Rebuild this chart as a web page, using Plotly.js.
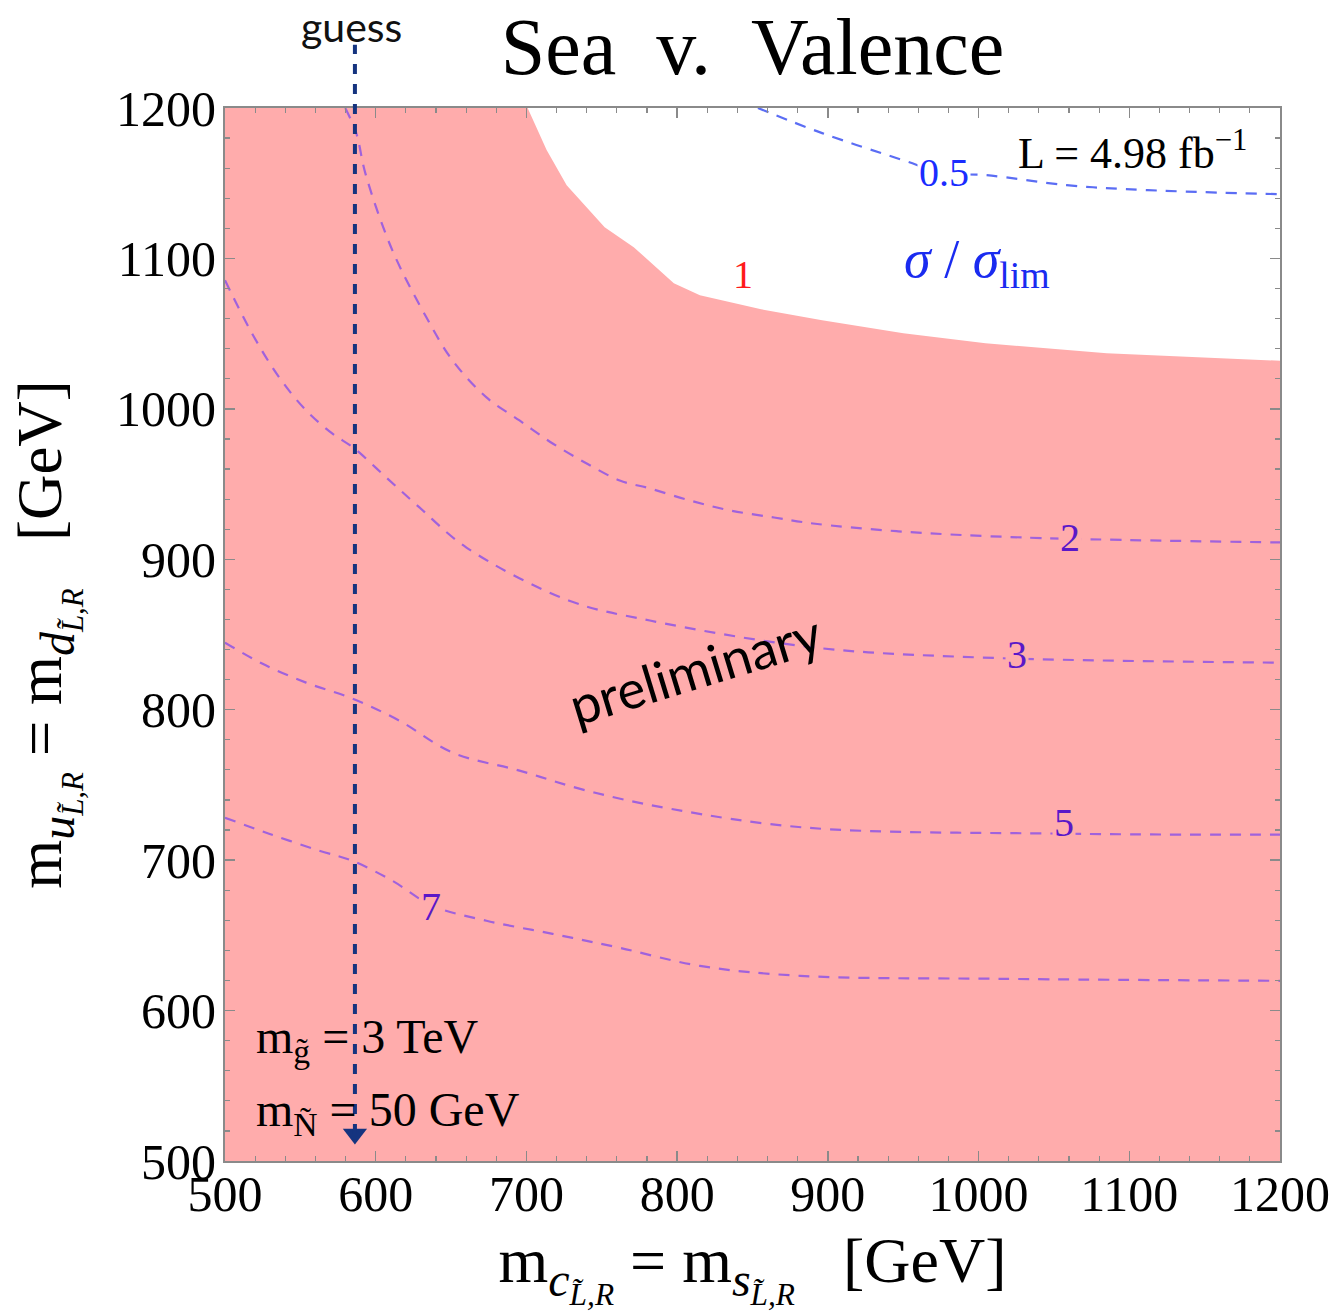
<!DOCTYPE html>
<html>
<head>
<meta charset="utf-8">
<script src="https://cdn.plot.ly/plotly-3.0.1.min.js"></script>
<style>
  html, body { margin: 0; padding: 0; background: #fff; }
  #chart { width: 1337px; height: 1312px; }
</style>
</head>
<body>
<div id="chart"></div>
<script>
// Axis ranges (GeV)
const xRange = [500, 1200];
const yRange = [500, 1200];

// sigma / sigma_lim = 1 boundary: excluded region lies below / left of it
const limX = [700.8, 713.4, 726.7, 751.9, 771.2, 797.8, 815.1, 855.7, 896.2, 950.1, 1004.6, 1085.0, 1200];
const limY = [1200, 1172.0, 1148.7, 1120.8, 1107.5, 1083.5, 1075.5, 1066.2, 1058.9, 1050.2, 1043.6, 1036.9, 1032.0];

// sigma / sigma_lim = 0.5
const c05X = [853.6, 896.2, 950.0, 977.3, 1004.6, 1058.4, 1112.2, 1200];
const c05Y = [1200, 1183.3, 1165.3, 1156.7, 1155.4, 1148.7, 1145.4, 1142.7];

// sigma / sigma_lim = 2
const c2X = [579.8, 587.1, 593.1, 611.0, 633.6, 650.9, 673.5, 695.4, 717.4, 740.0, 761.9, 781.9, 808.4, 835.0, 864.3, 890.2, 946.7, 1029.1, 1200];
const c2Y = [1200, 1183.3, 1156.7, 1105.5, 1060.9, 1032.3, 1007.6, 992.3, 977.0, 963.7, 952.4, 947.1, 939.1, 932.5, 927.8, 923.8, 918.6, 914.5, 911.2];

// sigma / sigma_lim = 3
const c3X = [500, 517.9, 535.9, 553.8, 571.1, 585.8, 607.0, 629.0, 660.2, 728.0, 781.9, 891.5, 1001.9, 1200];
const c3Y = [1085.5, 1050.2, 1021.0, 999.0, 983.7, 973.7, 954.4, 934.5, 907.8, 872.6, 859.3, 841.3, 834.7, 831.3];

// sigma / sigma_lim = 5
const c5X = [500, 524.6, 553.8, 584.4, 615.7, 650.9, 695.4, 740.0, 795.2, 885.6, 1055.7, 1200];
const c5Y = [844.6, 830.7, 818.0, 807.4, 792.7, 771.5, 759.5, 746.2, 734.2, 721.6, 717.6, 716.9];

// sigma / sigma_lim = 7
const c7X = [500, 529.2, 562.5, 584.4, 611.0, 637.6, 673.5, 717.4, 761.9, 815.1, 881.6, 1014.5, 1200];
const c7Y = [728.2, 717.6, 706.3, 699.6, 686.3, 669.7, 659.7, 651.0, 641.7, 629.7, 623.1, 621.1, 619.8];

// Contour level labels
const levelLabels = ['0.5', '1', '2', '3', '5', '7'];

// "guess" marker position
const guessX = 586.2;
const guessArrowY = 518;

// Tick values
const tickVals = [500, 600, 700, 800, 900, 1000, 1100, 1200];
const tickText = ['500', '600', '700', '800', '900', '1000', '1100', '1200'];

const SERIF = '"Liberation Serif", "Times New Roman", serif';
const SANS = 'Lato, "Open Sans", sans-serif';
const PINK = '#ffacac';
const CONTOUR = '#a062dc';
const LABEL_PURPLE = '#5a18c8';
const GUESS_BLUE = '#15347f';

// Excluded region polygon: top-left corner, boundary, then down the right edge and back
const fillX = [xRange[0]].concat(limX, [xRange[1], xRange[0]]);
const fillY = [yRange[1]].concat(limY, [yRange[0], yRange[0]]);

const dashed = (x, y, color) => ({
  type: 'scatter', mode: 'lines', x: x, y: y,
  line: {color: color, width: 2.2, dash: '11px,9px', shape: 'spline', smoothing: 1},
  hoverinfo: 'skip'
});

const traces = [
  {
    type: 'scatter', mode: 'lines', x: fillX, y: fillY,
    fill: 'toself', fillcolor: PINK, line: {width: 0, color: PINK},
    hoverinfo: 'skip'
  },
  dashed(c05X, c05Y, '#5b6df4'),
  dashed(c2X, c2Y, CONTOUR),
  dashed(c3X, c3Y, CONTOUR),
  dashed(c5X, c5Y, CONTOUR),
  dashed(c7X, c7Y, CONTOUR),
  {
    type: 'scatter', mode: 'markers', x: [guessX], y: [guessArrowY],
    marker: {symbol: 'triangle-down', size: 21, color: GUESS_BLUE},
    cliponaxis: false, hoverinfo: 'skip'
  }
];

const axisCommon = {
  tickmode: 'array',
  tickvals: tickVals,
  ticktext: tickText,
  ticks: 'inside',
  ticklen: 10,
  tickwidth: 1.5,
  tickcolor: '#8a8a8a',
  showline: true,
  linecolor: '#8a8a8a',
  linewidth: 2,
  mirror: 'allticks',
  showgrid: false,
  zeroline: false,
  tickfont: {family: SERIF, size: 50, color: '#000'},
  minor: {dtick: 20, tick0: 500, ticks: 'inside', ticklen: 5, tickwidth: 1.2, tickcolor: '#8a8a8a', showgrid: false},
  fixedrange: true
};

// squark mass symbol: m, italic flavour subscript, and an L,R sub-subscript
const squarkMass = (q) =>
  'm<sub><span style="font-size:48px"><i>' + q + '</i></span><sub><i>L\u0303,R</i></sub></sub>';

const labelAnn = (x, y, text, color, size, bg) => ({
  x: x, y: y, xref: 'x', yref: 'y', text: text, showarrow: false,
  font: {family: SERIF, size: size, color: color},
  bgcolor: bg || 'rgba(0,0,0,0)', borderpad: 1
});

const layout = {
  width: 1337,
  height: 1312,
  margin: {l: 225, r: 57, t: 108, b: 151},
  paper_bgcolor: '#fff',
  plot_bgcolor: '#fff',
  showlegend: false,
  font: {family: SERIF, color: '#000'},
  title: {
    text: 'Sea\u00a0\u00a0v.\u00a0\u00a0Valence',
    font: {family: SERIF, size: 80, color: '#000'},
    x: 0.5, xref: 'paper', xanchor: 'center',
    y: 1 - 46 / 1312, yref: 'container', yanchor: 'middle'
  },
  xaxis: Object.assign({}, axisCommon, {
    range: xRange,
    ticklabelstandoff: -12,
    title: {
      text: squarkMass('c') + ' = ' + squarkMass('s') + '\u00a0\u00a0\u00a0[GeV]',
      font: {family: SERIF, size: 64, color: '#000'},
      standoff: 32
    }
  }),
  yaxis: Object.assign({}, axisCommon, {
    range: yRange,
    ticklabelstandoff: -3,
    title: {
      text: squarkMass('u') + ' = ' + squarkMass('d') + '\u00a0\u00a0\u00a0[GeV]',
      font: {family: SERIF, size: 63, color: '#000'},
      standoff: 34
    }
  }),
  shapes: [
    {
      type: 'line', xref: 'x', yref: 'paper',
      x0: guessX, x1: guessX,
      y0: (guessArrowY - yRange[0]) / (yRange[1] - yRange[0]), y1: 1.06,
      line: {color: GUESS_BLUE, width: 4, dash: '10px,10px'},
      layer: 'above'
    }
  ],
  annotations: [
    {
      x: guessX, y: 1.077, xref: 'x', yref: 'paper', xshift: -3,
      xanchor: 'center', yanchor: 'middle',
      text: 'guess', showarrow: false,
      font: {family: SANS, size: 41, color: '#111'}
    },
    Object.assign(labelAnn(1180, 1172, 'L = 4.98 fb<sup>\u22121</sup>', '#000', 44), {xanchor: 'right'}),
    labelAnn(977.3, 1157.4, levelLabels[0], '#1a2cff', 40, '#fff'),
    labelAnn(999.2, 1097.5, '<i>\u03c3</i> / <i>\u03c3</i><sub>lim</sub>', '#1a2bf0', 54),
    labelAnn(843.7, 1089.5, levelLabels[1], '#ff1a1a', 40),
    labelAnn(1060.4, 914.4, levelLabels[2], LABEL_PURPLE, 40, PINK),
    labelAnn(1025.2, 836.7, levelLabels[3], LABEL_PURPLE, 40, PINK),
    labelAnn(1056.4, 724.9, levelLabels[4], LABEL_PURPLE, 40, PINK),
    labelAnn(636.9, 669.0, levelLabels[5], LABEL_PURPLE, 40, PINK),
    {
      x: 811.8, y: 827.3, xref: 'x', yref: 'y', text: 'preliminary', showarrow: false,
      textangle: -17,
      font: {family: SANS, size: 53, color: '#000'}
    },
    {
      x: 519.3, y: 580.5, xref: 'x', yref: 'y', xanchor: 'left', yanchor: 'middle',
      text: 'm<sub>g\u0303</sub> = 3 TeV', showarrow: false,
      font: {family: SERIF, size: 48, color: '#000'}
    },
    {
      x: 519.3, y: 531.9, xref: 'x', yref: 'y', xanchor: 'left', yanchor: 'middle',
      text: 'm<sub>\u00d1</sub> = 50 GeV', showarrow: false,
      font: {family: SERIF, size: 48, color: '#000'}
    }
  ]
};

Plotly.newPlot('chart', traces, layout, {displayModeBar: false, staticPlot: true});
</script>
</body>
</html>
